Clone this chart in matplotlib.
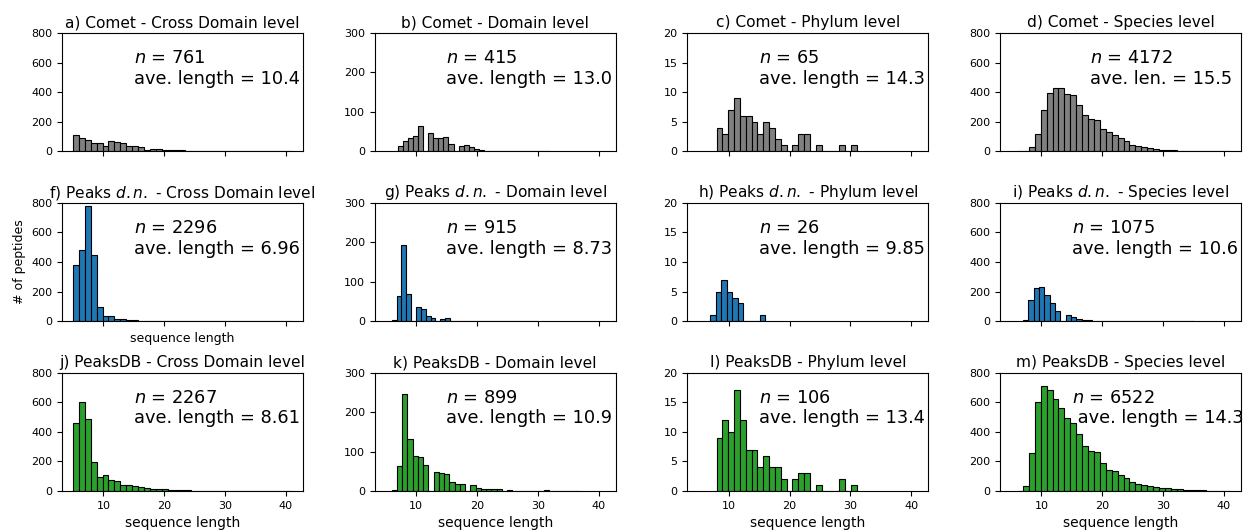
import matplotlib
matplotlib.use("Agg")
import matplotlib.pyplot as plt
import matplotlib.transforms as mtransforms
import numpy as np

# panel titles, row by row
titles = [
    "a) Comet - Cross Domain level", "b) Comet - Domain level",
    "c) Comet - Phylum level", "d) Comet - Species level",
    "f) Peaks $d.n.$ - Cross Domain level", "g) Peaks $d.n.$ - Domain level",
    "h) Peaks $d.n.$ - Phylum level", "i) Peaks $d.n.$ - Species level",
    "j) PeaksDB - Cross Domain level", "k) PeaksDB - Domain level",
    "l) PeaksDB - Phylum level", "m) PeaksDB - Species level",
]

# peptide counts per sequence length (first length given in first_len)
comet_cross = [110, 90, 74, 55, 57, 38, 73, 62, 57, 36, 35, 26, 6, 18, 15, 12, 8, 12, 6,
               5, 5, 3, 3, 3, 3, 1, 0, 1, 0, 0, 0, 0, 0, 0, 0, 0, 0]
comet_domain = [14, 26, 33, 40, 63, 47, 35, 33, 37, 19, 14, 16, 12, 5, 4, 2, 2, 1, 1, 1,
                1, 0, 1, 0, 0, 1]
comet_phylum = [4, 3, 7, 9, 6, 6, 5, 3, 5, 4, 2, 1, 0, 1, 3, 3, 0, 1, 0, 0, 0, 1, 0, 1]
comet_species = [2, 5, 32, 118, 277, 395, 431, 431, 388, 384, 316, 245, 220, 213, 152, 129,
                 113, 88, 73, 45, 36, 27, 20, 16, 11, 9, 6, 5, 4, 3, 3, 2, 2, 2, 2, 2]

dn_cross = [383, 478, 780, 447, 98, 38, 38, 18, 18, 8, 5, 3, 3, 2, 2, 1,
            0, 0, 0, 0, 0, 0, 0, 0, 0, 0, 0, 0, 0, 0, 0, 0, 0, 0, 0, 0, 0]
dn_domain = [2, 63, 193, 68, 37, 31, 14, 7, 5, 7, 0, 1,
             0, 0, 0, 0, 0, 0, 0, 0, 0, 0, 0, 0, 0]
dn_phylum = [1, 5, 7, 5, 4, 3, 0, 0, 0, 1]
dn_species = [10, 140, 225, 228, 178, 122, 68, 40, 28, 17, 8, 5, 3, 2, 2, 1,
              0, 0, 0, 0, 0, 0, 0, 0, 0, 0, 0, 0, 0]

db_cross = [460, 603, 484, 194, 92, 110, 77, 70, 40, 40, 31, 25, 20, 15, 11, 13, 9, 7, 5,
            4, 3, 2, 2, 1, 1, 1, 1, 1, 1, 1, 1, 0, 0, 0, 0, 0, 0]
db_domain = [2, 63, 245, 131, 89, 87, 65, 48, 45, 42, 23, 19, 18, 14, 7, 5, 5, 5, 4, 2,
             1, 1, 1, 1, 1, 2, 0, 0, 0, 0, 0, 0]
db_phylum = [9, 12, 10, 17, 12, 7, 7, 4, 6, 4, 4, 2, 0, 2, 3, 3, 0, 1, 0, 0, 0, 2, 0, 1]
db_species = [3, 36, 258, 602, 710, 682, 620, 563, 495, 460, 385, 301, 270, 261, 186, 145,
              138, 107, 91, 61, 50, 41, 34, 27, 23, 18, 16, 11, 9, 7, 5, 4, 3, 3, 2, 2]

all_counts = [comet_cross, comet_domain, comet_phylum, comet_species,
              dn_cross, dn_domain, dn_phylum, dn_species,
              db_cross, db_domain, db_phylum, db_species]
first_len = [5, 7, 8, 6, 5, 6, 7, 7, 5, 6, 8, 6]
n_bins = [37, 30, 24, 36, 37, 30, 10, 32, 37, 36, 24, 36]

n_peptides = [761, 415, 65, 4172, 2296, 915, 26, 1075, 2267, 899, 106, 6522]
ave_text = ["ave. length = 10.4", "ave. length = 13.0", "ave. length = 14.3", "ave. len. = 15.5",
            "ave. length = 6.96", "ave. length = 8.73", "ave. length = 9.85", "ave. length = 10.6",
            "ave. length = 8.61", "ave. length = 10.9", "ave. length = 13.4", " ave. length = 14.3"]
text_x = [15, 15, 15, 18, 15, 15, 15, 15, 15, 15, 15, 15]

row_colors = ["grey", "tab:blue", "tab:green"]
col_ymax = [800, 300, 20, 800]
col_ystep = [200, 100, 5, 200]

fig, axes = plt.subplots(3, 4, sharex=True, figsize=(12.44, 5.31), dpi=100)
fig.subplots_adjust(left=0.0498, right=0.9976, bottom=0.0753, top=0.9379,
                    wspace=0.297, hspace=0.435)

for i, ax in enumerate(axes.flat):
    row, col = divmod(i, 4)
    counts = all_counts[i]
    lengths = np.arange(first_len[i], first_len[i] + len(counts))
    ax.hist(lengths, bins=n_bins[i], weights=counts, color=row_colors[row],
            edgecolor="black", linewidth=0.8)
    ax.set_ylim(0, col_ymax[col])
    ax.set_yticks(np.arange(0, col_ymax[col] + 1, col_ystep[col]))
    ax.tick_params(labelsize=8)
    ax.set_title(titles[i], fontsize=11.1, pad=4)
    trans = mtransforms.blended_transform_factory(ax.transData, ax.transAxes)
    ax.text(text_x[i], 0.865, f"$n$ = {n_peptides[i]}\n{ave_text[i]}",
            transform=trans, ha="left", va="top", fontsize=12.8)
    if row == 2:
        ax.set_xlabel("sequence length", fontsize=10)

axes[1, 0].set_xlabel("sequence length", fontsize=9)
axes[1, 0].set_ylabel("# of peptides", fontsize=9)

fig.savefig("out.png", dpi=100)
